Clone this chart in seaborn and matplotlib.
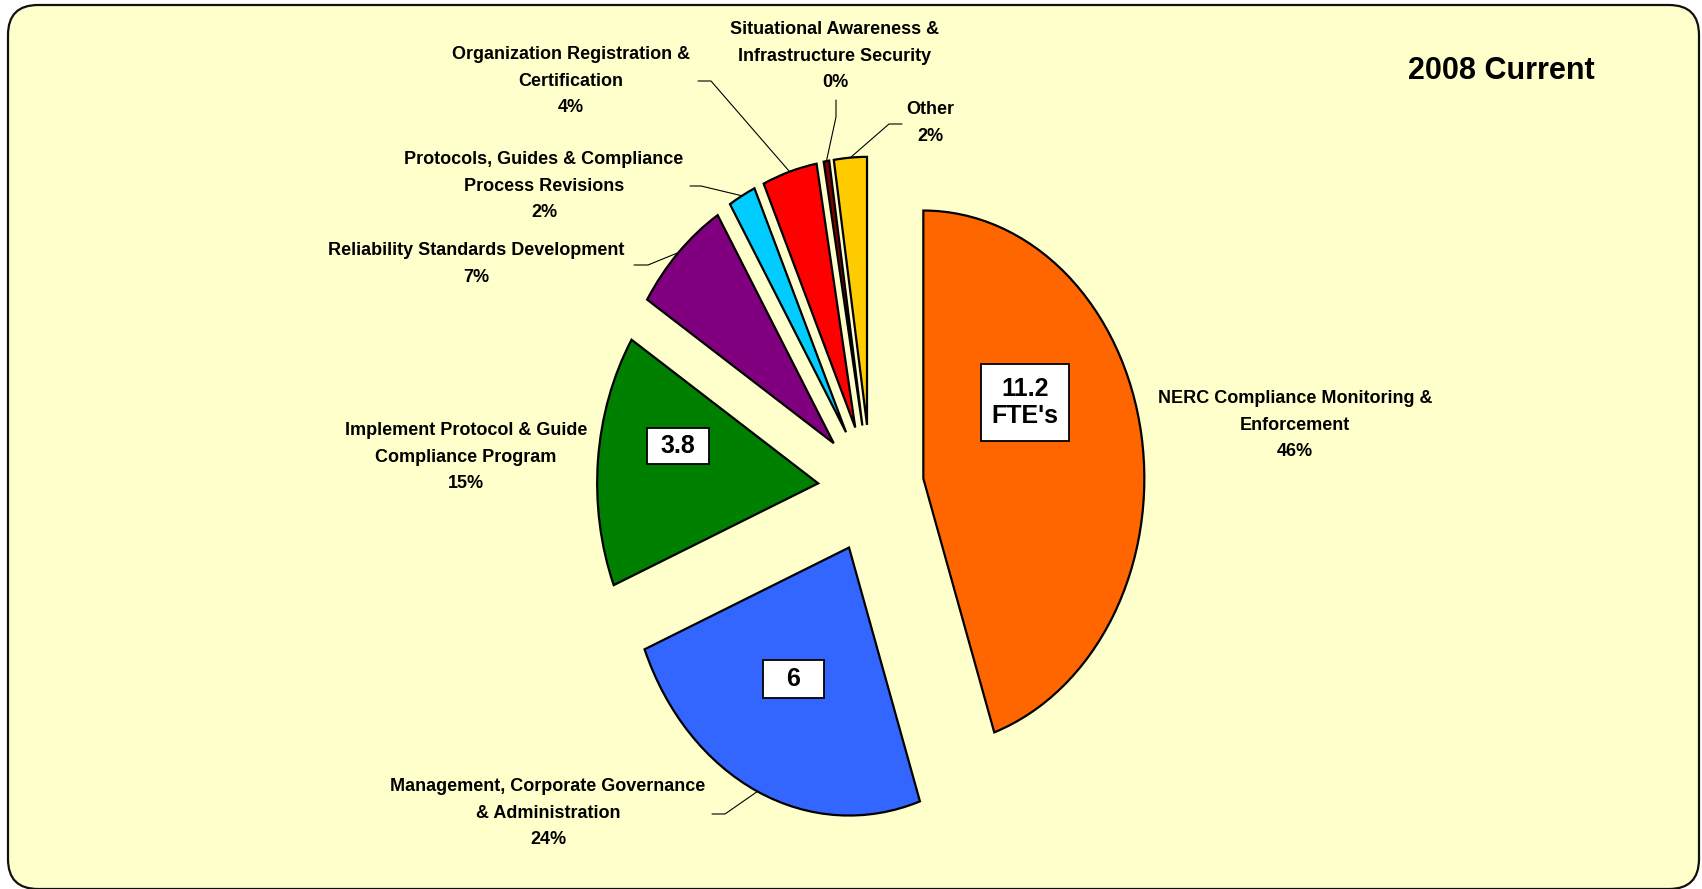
import numpy as np
import matplotlib
matplotlib.use('Agg')
import matplotlib.pyplot as plt
from matplotlib.patches import FancyBboxPatch, Rectangle
import seaborn as sns

# slice data, clockwise from 12 o'clock
categories = ["NERC Compliance Monitoring &\nEnforcement",
              "Management, Corporate Governance\n& Administration",
              "Implement Protocol & Guide\nCompliance Program",
              "Reliability Standards Development",
              "Protocols, Guides & Compliance\nProcess Revisions",
              "Organization Registration &\nCertification",
              "Situational Awareness &\nInfrastructure Security",
              "Other"]
fte = [11.2, 6.0, 3.8, 1.8, 0.5, 1.0, 0.1, 0.6]
pct_labels = ["46%", "24%", "15%", "7%", "2%", "4%", "0%", "2%"]
fte_boxes = {0: "11.2\nFTE's", 1: "6", 2: "3.8"}
colors = ["#FF6600", "#3366FF", "#008000", "#800080",
          "#00CCFF", "#FF0000", "#800000", "#FFCC00"]

sns.set_theme(style="white")
plt.rcParams['font.family'] = ['Liberation Sans', 'DejaVu Sans']
plt.rcParams['text.color'] = 'black'

W, H = 1702, 889
CX, CY = 871, 489          # pie centre in pixels
SX, SY = 221, 268          # pixels per unit (picture is squeezed sideways)


def px(x, y):
    return ((x - CX) / SX, (CY - y) / SY)


fig = plt.figure(figsize=(W / 100, H / 100), dpi=100, facecolor="white")
ax = fig.add_axes([0, 0, 1, 1])
ax.patch.set_alpha(0)

# rounded yellow panel
frame = FancyBboxPatch((8 / 100, 0.0), (1699 - 8) / 100, (889 - 5) / 100,
                       boxstyle="round,pad=0,rounding_size=0.3",
                       transform=fig.dpi_scale_trans, facecolor="#FFFFCC",
                       edgecolor="#111111", linewidth=1.6, zorder=-10)
ax.add_patch(frame)

wedges, _ = ax.pie(fte, colors=sns.color_palette(colors), startangle=90,
                   counterclock=False, explode=[0.24] * len(fte), radius=1,
                   wedgeprops=dict(edgecolor="black", linewidth=1.6))
ax.set_aspect('auto')
ax.set_xlim(-CX / SX, (W - CX) / SX)
ax.set_ylim((CY - H) / SY, CY / SY)
ax.axis('off')

# category labels: (centre x, centre y) in px, and leader elbow points
label_pos = [(1295, 425), (548, 813), (466, 457), (476, 264),
             (544, 186), (571, 81), (835, 56), (930, 123)]
leaders = {1: [(712, 814), (725, 814)],
           3: [(634, 265), (648, 265)],
           4: [(690, 186), (701, 186)],
           5: [(698, 81), (711, 81)],
           6: [(836, 100), (836, 117)],
           7: [(902, 124), (889, 124)]}

for i, w in enumerate(wedges):
    tx, ty = px(*label_pos[i])
    ax.text(tx, ty, categories[i] + "\n" + pct_labels[i], ha="center",
            va="center", multialignment="center", fontsize=13,
            fontweight="bold", linespacing=1.72)
    if i in leaders:
        mid = np.deg2rad((w.theta1 + w.theta2) / 2)
        ex = w.center[0] + w.r * np.cos(mid)
        ey = w.center[1] + w.r * np.sin(mid)
        pts = [px(*p) for p in leaders[i]] + [(ex, ey)]
        ax.plot([p[0] for p in pts], [p[1] for p in pts], color="black",
                linewidth=0.8)

# FTE boxes: (left, top, right, bottom) px
box_px = {0: (981, 364, 1069, 441), 1: (763, 660, 824, 698),
          2: (647, 428, 709, 464)}
for i, txt in fte_boxes.items():
    l, t, r, b = box_px[i]
    x0, y0 = px(l, b)
    x1, y1 = px(r, t)
    ax.add_patch(Rectangle((x0, y0), x1 - x0, y1 - y0, facecolor="white",
                           edgecolor="black", linewidth=1.3, zorder=5))
    ax.text((x0 + x1) / 2, (y0 + y1) / 2, txt, ha="center", va="center",
            fontsize=18, fontweight="bold", linespacing=1.15, zorder=6)

tx, ty = px(1595, 71)
ax.text(tx, ty, "2008 Current", ha="right", va="center", fontsize=22,
        fontweight="bold")

fig.savefig("out.png", dpi=100, facecolor="white")
